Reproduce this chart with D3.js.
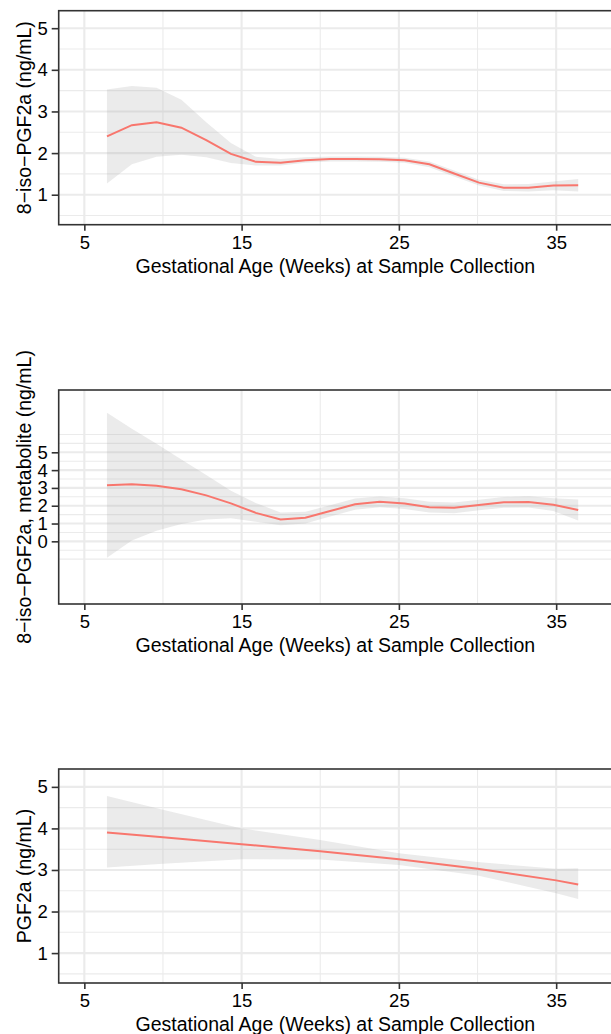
<!DOCTYPE html>
<html>
<head>
<meta charset="utf-8">
<script src="https://cdn.jsdelivr.net/npm/d3@7"></script>
<style>
  body { margin: 0; background: #fff; }
  svg { display: block; font-family: "Liberation Sans", Arial, sans-serif; }
</style>
</head>
<body>
<svg id="chart" width="611" height="1034"></svg>
<script>

// gestational weeks where the smoothed curves were read
var weeks = [6.44, 8.02, 9.59, 11.17, 12.75, 14.32, 15.90, 17.48, 19.05, 20.63, 22.21, 23.78, 25.36, 26.94, 28.51, 30.09, 31.67, 33.24, 34.82, 36.40];

// 8-iso-PGF2a
var iso_fit   = [2.40, 2.67, 2.74, 2.61, 2.31, 1.98, 1.79, 1.77, 1.83, 1.86, 1.86, 1.85, 1.83, 1.73, 1.51, 1.29, 1.17, 1.17, 1.22, 1.23];
var iso_upper = [3.53, 3.61, 3.57, 3.28, 2.74, 2.24, 1.91, 1.86, 1.90, 1.92, 1.92, 1.91, 1.89, 1.80, 1.58, 1.36, 1.25, 1.26, 1.32, 1.38];
var iso_lower = [1.27, 1.73, 1.91, 1.96, 1.90, 1.76, 1.70, 1.70, 1.77, 1.80, 1.80, 1.79, 1.77, 1.66, 1.44, 1.22, 1.09, 1.08, 1.11, 1.08];

// 8-iso-PGF2a metabolite
var met_fit   = [3.15, 3.20, 3.12, 2.92, 2.58, 2.13, 1.60, 1.23, 1.32, 1.70, 2.08, 2.22, 2.12, 1.92, 1.88, 2.04, 2.19, 2.21, 2.06, 1.76];
var met_upper = [7.22, 6.33, 5.48, 4.60, 3.72, 2.84, 2.15, 1.62, 1.66, 2.02, 2.40, 2.52, 2.42, 2.22, 2.18, 2.34, 2.49, 2.53, 2.42, 2.35];
var met_lower = [-0.92, 0.05, 0.60, 0.98, 1.22, 1.30, 1.10, 0.90, 1.00, 1.40, 1.78, 1.92, 1.82, 1.62, 1.58, 1.74, 1.89, 1.90, 1.70, 1.17];

// PGF2a
var pgf_weeks = [6.44, 10, 15, 20, 25, 30, 35, 36.4];
var pgf_fit   = [3.90, 3.79, 3.62, 3.45, 3.26, 3.03, 2.75, 2.65];
var pgf_upper = [4.78, 4.45, 4.00, 3.72, 3.40, 3.19, 3.03, 3.04];
var pgf_lower = [3.06, 3.15, 3.26, 3.25, 3.12, 2.87, 2.44, 2.30];

var x_ticks = [5, 15, 25, 35];
var x_minor = [10, 20, 30];
var x_title = "Gestational Age (Weeks) at Sample Collection";

var panels = [
    { top: 10.7, title: "8\u2212iso\u2212PGF2a (ng/mL)", domain: [0.28, 5.42],
      ticks: [1, 2, 3, 4, 5], minor: [0.5, 1.5, 2.5, 3.5, 4.5],
      x: weeks, fit: iso_fit, upper: iso_upper, lower: iso_lower },
    { top: 390, title: "8\u2212iso\u2212PGF2a, metabolite (ng/mL)", domain: [-3.52, 8.5],
      ticks: [0, 1, 2, 3, 4, 5], minor: [-1, -0.5, 0.5, 1.5, 2.5, 3.5, 4.5, 5.5, 6],
      x: weeks, fit: met_fit, upper: met_upper, lower: met_lower },
    { top: 769, title: "PGF2a (ng/mL)", domain: [0.28, 5.43],
      ticks: [1, 2, 3, 4, 5], minor: [0.5, 1.5, 2.5, 3.5, 4.5],
      x: pgf_weeks, fit: pgf_fit, upper: pgf_upper, lower: pgf_lower }
];

var svg = d3.select("#chart");

var left = 58.7, right = 612, panel_h = 214;

var x = d3.scaleLinear().domain([3.37, 38.55]).range([left, right]);

var draw_panel = function(p) {

    var y = d3.scaleLinear().domain(p.domain).range([p.top + panel_h, p.top]);
    var g = svg.append("g");

    // grid
    g.selectAll(".hminor").data(p.minor).enter().append("line")
	.attr("x1", left).attr("x2", right)
	.attr("y1", y).attr("y2", y)
	.attr("stroke", "#ebebeb").attr("stroke-width", 1.1);
    g.selectAll(".vminor").data(x_minor).enter().append("line")
	.attr("x1", x).attr("x2", x)
	.attr("y1", p.top).attr("y2", p.top + panel_h)
	.attr("stroke", "#ebebeb").attr("stroke-width", 1.1);
    g.selectAll(".hmajor").data(p.ticks).enter().append("line")
	.attr("x1", left).attr("x2", right)
	.attr("y1", y).attr("y2", y)
	.attr("stroke", "#ebebeb").attr("stroke-width", 2.1);
    g.selectAll(".vmajor").data(x_ticks).enter().append("line")
	.attr("x1", x).attr("x2", x)
	.attr("y1", p.top).attr("y2", p.top + panel_h)
	.attr("stroke", "#ebebeb").attr("stroke-width", 2.1);

    var rows = p.x.map(function(d, i) {
	return { x: d, fit: p.fit[i], hi: p.upper[i], lo: p.lower[i] };
    });

    var band = d3.area()
	.x(function(d) { return x(d.x); })
	.y0(function(d) { return y(d.lo); })
	.y1(function(d) { return y(d.hi); });

    var line = d3.line()
	.x(function(d) { return x(d.x); })
	.y(function(d) { return y(d.fit); });

    g.append("path").datum(rows)
	.attr("d", band)
	.attr("fill", "#999999").attr("fill-opacity", 0.2);

    g.append("path").datum(rows)
	.attr("d", line)
	.attr("fill", "none").attr("stroke", "#F8766D").attr("stroke-width", 2);

    // border
    g.append("rect")
	.attr("x", left).attr("y", p.top)
	.attr("width", right - left).attr("height", panel_h)
	.attr("fill", "none").attr("stroke", "#333333").attr("stroke-width", 1.6);

    // axes
    var xa = g.append("g")
	.attr("transform", "translate(0," + (p.top + panel_h) + ")")
	.call(d3.axisBottom(x).tickValues(x_ticks).tickFormat(d3.format("d")).tickSize(6).tickPadding(5));

    var ya = g.append("g")
	.attr("transform", "translate(" + left + ",0)")
	.call(d3.axisLeft(y).tickValues(p.ticks).tickFormat(d3.format("d")).tickSize(7).tickPadding(4));

    [xa, ya].forEach(function(a) {
	a.select(".domain").remove();
	a.selectAll(".tick line").attr("stroke", "#333333").attr("stroke-width", 1.6);
	a.selectAll(".tick text").attr("fill", "#000").style("font-size", "18.5px")
	    .style("font-family", "'Liberation Sans', Arial, sans-serif");
    });

    g.append("text")
	.attr("x", (left + right) / 2).attr("y", p.top + panel_h + 48)
	.attr("text-anchor", "middle")
	.style("font-size", "19.5px")
	.text(x_title);

    g.append("text")
	.attr("transform", "translate(31," + (p.top + panel_h / 2) + ") rotate(-90)")
	.attr("text-anchor", "middle")
	.style("font-size", "19.5px")
	.text(p.title);

};

panels.forEach(draw_panel);

</script>
</body>
</html>
